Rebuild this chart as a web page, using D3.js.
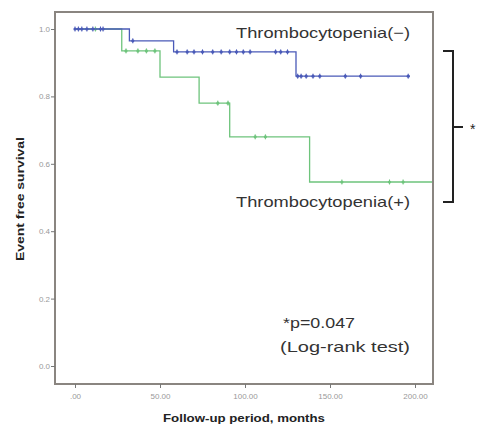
<!DOCTYPE html>
<html><head><meta charset="utf-8">
<script src="https://cdn.jsdelivr.net/npm/d3@7"></script>
<style>body{margin:0;background:#fff;} svg{display:block;}</style>
</head><body>
<script>
// ---- data ----
const negTimes = [0, 32, 58, 130, 197];
const negSurv  = [1.0, 0.965, 0.932, 0.86, 0.86];
const negCensor = [0, 2, 4, 7, 10.5, 15, 16.5, 34, 60, 66, 70, 75, 81, 86, 91, 95, 99, 103, 118, 121, 125, 131, 133, 136, 140, 144, 159, 168, 196];
const posTimes = [0, 27.5, 50, 73, 91, 138, 210];
const posSurv  = [1.0, 0.935, 0.857, 0.78, 0.68, 0.546, 0.546];
const posCensor = [12, 30, 37, 42, 47, 84, 90, 106, 112, 157, 185, 193];
const xTicks = [0, 50, 100, 150, 200];
const xTickLabels = [".00", "50.00", "100.00", "150.00", "200.00"];
const yTicks = [0, 0.2, 0.4, 0.6, 0.8, 1.0];
const yTickLabels = ["0.0", "0.2", "0.4", "0.6", "0.8", "1.0"];
const groupLabels = ["Thrombocytopenia(\u2212)", "Thrombocytopenia(+)"];
const pText = ["*p=0.047", "(Log-rank test)"];

const W = 477, H = 425;
const svg = d3.select("body").append("svg").attr("width", W).attr("height", H);

const x = d3.scaleLinear().domain([0, 200]).range([75, 415]);
const y = d3.scaleLinear().domain([0, 1]).range([366, 29]);
const frame = {l: 55, t: 12, r: 433, b: 384};
const font = "Liberation Sans, Arial, sans-serif";

// frame
svg.append("rect").attr("x", frame.l).attr("y", frame.t)
  .attr("width", frame.r - frame.l).attr("height", frame.b - frame.t)
  .attr("fill", "#fff").attr("stroke", "#8a8580").attr("stroke-width", 2);

// y axis
const yAxis = svg.append("g").attr("transform", `translate(${frame.l},0)`)
  .call(d3.axisLeft(y).tickValues(yTicks).tickSize(4).tickFormat((d, i) => yTickLabels[i]));
yAxis.select(".domain").remove();
yAxis.selectAll(".tick line").attr("stroke", "#777");
yAxis.selectAll(".tick text").attr("fill", "#999").attr("font-size", 8)
  .attr("font-family", font).attr("x", -5);

// x axis
const xAxis = svg.append("g").attr("transform", `translate(0,${frame.b})`)
  .call(d3.axisBottom(x).tickValues(xTicks).tickSize(4).tickFormat((d, i) => xTickLabels[i]));
xAxis.select(".domain").remove();
xAxis.selectAll(".tick line").attr("stroke", "#777");
xAxis.selectAll(".tick text").attr("fill", "#999").attr("font-size", 8)
  .attr("font-family", font).attr("y", 9);

// axis titles
svg.append("text").attr("x", 244).attr("y", 422).attr("text-anchor", "middle")
  .attr("font-family", font).attr("font-weight", "bold")
  .attr("font-size", 11).attr("fill", "#222")
  .attr("textLength", 162).attr("lengthAdjust", "spacingAndGlyphs")
  .text("Follow-up period, months");
svg.append("text").attr("transform", "translate(24,199) rotate(-90)").attr("text-anchor", "middle")
  .attr("font-family", font).attr("font-weight", "bold")
  .attr("font-size", 10.5).attr("fill", "#222")
  .attr("textLength", 124).attr("lengthAdjust", "spacingAndGlyphs")
  .text("Event free survival");

// step curves
function stepPath(times, surv) {
  const pts = times.map((t, i) => [x(t), y(surv[i])]);
  return d3.line().curve(d3.curveStepAfter)(pts);
}
function survAt(times, surv, t) {
  let s = surv[0];
  for (let i = 0; i < times.length; i++) if (times[i] <= t) s = surv[i];
  return s;
}
const groups = [
  {times: posTimes, surv: posSurv, censor: posCensor, color: "#6ec47c"},
  {times: negTimes, surv: negSurv, censor: negCensor, color: "#4a5ab8"}
];
groups.forEach(g => {
  svg.append("path").attr("d", stepPath(g.times, g.surv)).attr("fill", "none")
    .attr("stroke", g.color).attr("stroke-width", 1.3);
  svg.selectAll(null).data(g.censor).enter().append("line")
    .attr("x1", d => x(d)).attr("x2", d => x(d))
    .attr("y1", d => y(survAt(g.times, g.surv, d)) - 2.5)
    .attr("y2", d => y(survAt(g.times, g.surv, d)) + 2.5)
    .attr("stroke", g.color).attr("stroke-width", 1);
  svg.selectAll(null).data(g.censor).enter().append("circle")
    .attr("cx", d => x(d)).attr("cy", d => y(survAt(g.times, g.surv, d)))
    .attr("r", 1.6).attr("fill", g.color);
});

// labels
svg.append("text").attr("x", 236).attr("y", 38).attr("font-family", font)
  .attr("font-size", 15).attr("fill", "#333")
  .attr("textLength", 174).attr("lengthAdjust", "spacingAndGlyphs").text(groupLabels[0]);
svg.append("text").attr("x", 236).attr("y", 207).attr("font-family", font)
  .attr("font-size", 15).attr("fill", "#333")
  .attr("textLength", 174).attr("lengthAdjust", "spacingAndGlyphs").text(groupLabels[1]);
svg.append("text").attr("x", 283).attr("y", 328).attr("font-family", font)
  .attr("font-size", 15).attr("fill", "#333")
  .attr("textLength", 72).attr("lengthAdjust", "spacingAndGlyphs").text(pText[0]);
svg.append("text").attr("x", 280).attr("y", 352).attr("font-family", font)
  .attr("font-size", 15).attr("fill", "#333")
  .attr("textLength", 130).attr("lengthAdjust", "spacingAndGlyphs").text(pText[1]);

// bracket
const bx = 453, bTop = 51, bBot = 202, bMid = 127;
svg.append("path").attr("d", `M${bx - 10},${bTop} H${bx} V${bBot} H${bx - 10} M${bx},${bMid} H${bx + 10}`)
  .attr("fill", "none").attr("stroke", "#222").attr("stroke-width", 2);
svg.append("text").attr("x", 470).attr("y", 134).attr("font-family", font)
  .attr("font-size", 14).attr("fill", "#222").text("*");
</script>
</body></html>
